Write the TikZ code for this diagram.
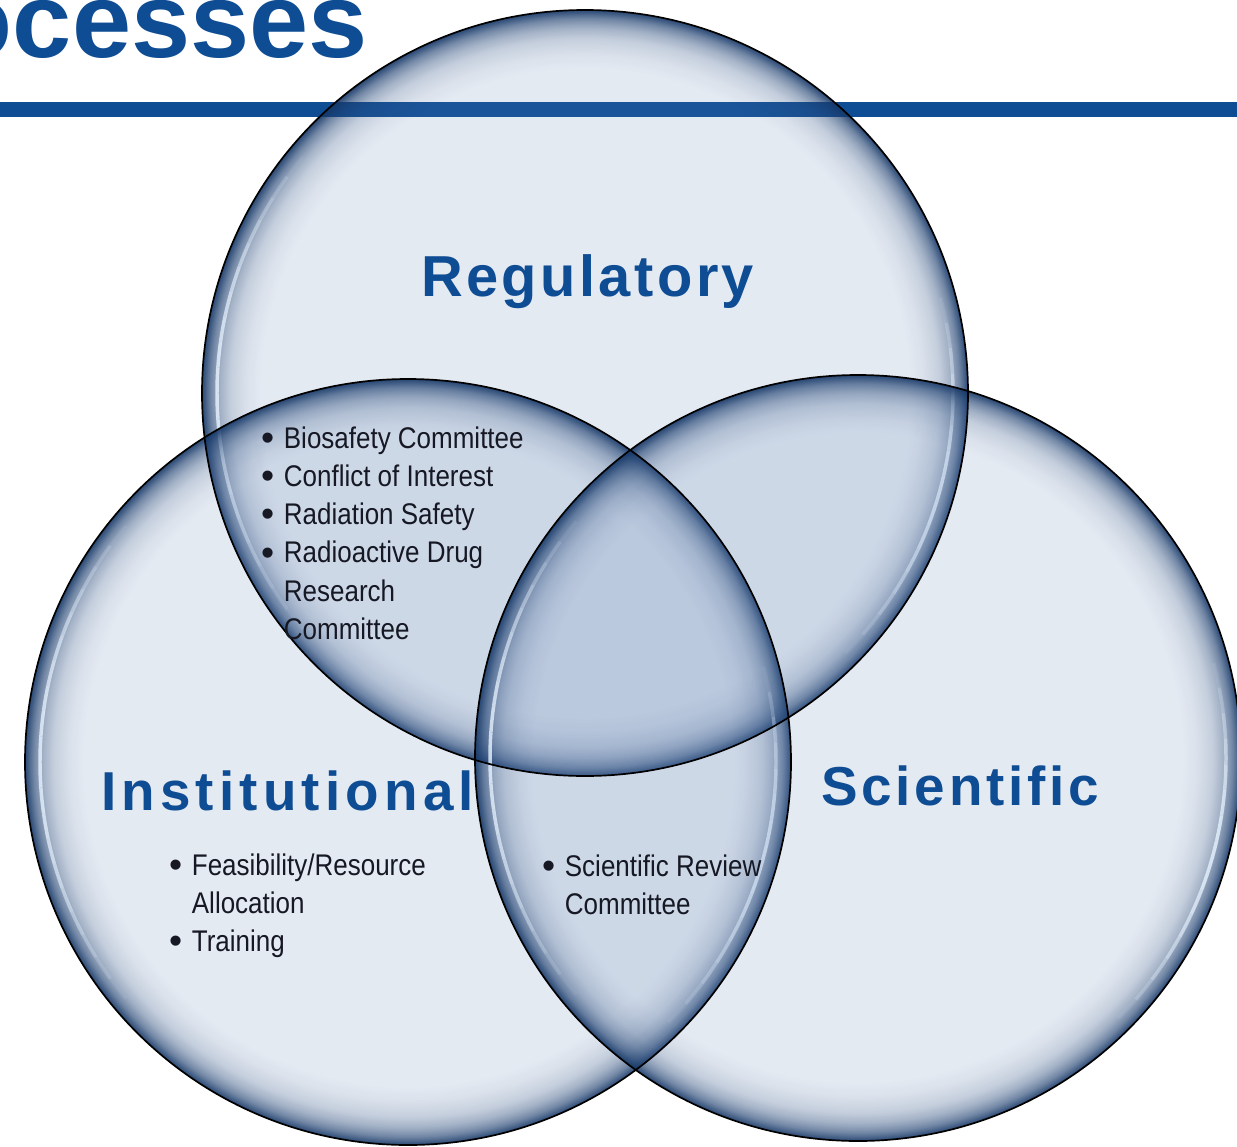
\documentclass[tikz,border=0pt]{standalone}
\usepackage{fontspec}
\setmainfont{Liberation Sans}
\newfontfamily\listfont[FakeStretch=0.87]{Liberation Sans}
\newfontfamily\regfont[LetterSpace=6]{Liberation Sans}
\newfontfamily\instfont[LetterSpace=9.5]{Liberation Sans}
\newfontfamily\scifont[LetterSpace=7]{Liberation Sans}
\usepackage{xcolor}
\usepackage{graphicx}
\usepackage{tikz}
\usetikzlibrary{positioning, fadings}

\definecolor{headblue}{RGB}{14,76,147}
\definecolor{vennfill}{RGB}{95,128,178}
\definecolor{vennedge}{RGB}{20,54,102}
\definecolor{glint}{RGB}{232,243,255}
\definecolor{listtext}{RGB}{22,24,36}

% one picture pixel
\newlength\pxu
\setlength\pxu{0.5669pt}

% mask for the dark inner rim (black = clear, white = solid)
\pgfdeclareradialshading{rimmask}{\pgfpointorigin}{%
  color(0bp)=(black); color(21.1bp)=(black); color(22.06bp)=(black!95);
  color(23.04bp)=(black!85); color(23.7bp)=(black!70); color(24bp)=(black!59);
  color(24.35bp)=(black!45); color(24.67bp)=(black!25); color(25bp)=(black!5);
  color(50bp)=(black!5)}
\tikzfading[name=rimfade, shading=rimmask]

\tikzstyle{titletext} = [anchor=base west, text=headblue, font={\fontsize{60.5}{70}\selectfont\bfseries}]
\tikzstyle{heading} = [anchor=base west, text=headblue]
\tikzstyle{itemlist} = [anchor=base west, text=listtext, font={\fontsize{17}{21.8}\selectfont\listfont}]
\tikzstyle{discrim} = [draw=black, line width=1.7\pxu]

\newcommand\bitem{\makebox[23\pxu][l]{\raisebox{-1.25pt}{\scalebox{1.44}[1.25]{\textbullet}}}}

% glassy disc: tinted fill, dark inner rim, two light glints
\newcommand\glassdisc[1]{%
  \fill[vennfill, fill opacity=0.17] (#1) circle (383);
  \fill[vennedge, path fading=rimfade] (#1) circle (383);
  \foreach \a in {0,...,19}{
    \pgfmathsetmacro\hop{0.8*sin(180*(\a+0.5)/20)}
    \pgfmathsetmacro\hs{140+4*\a}
    \draw[glint, line width=3.5\pxu, draw opacity=\hop] (#1) ++(\hs:368) arc[start angle=\hs, delta angle=4, radius=368];
  }
  \foreach \a in {0,...,14}{
    \pgfmathsetmacro\hop{0.8*sin(180*(\a+0.5)/15)}
    \pgfmathsetmacro\hs{-15+4*\a}
    \draw[glint, line width=3.5\pxu, draw opacity=\hop] (#1) ++(\hs:368) arc[start angle=\hs, delta angle=4, radius=368];
  }
}

\begin{document}
\begin{tikzpicture}[x=0.02cm, y=-0.02cm,
      every node/.style={inner sep=0pt, outer sep=0pt}]
  \useasboundingbox (0,0) rectangle (1237,1146);

  % Title and rule
  \node[titletext] (title) at (-52,57) {ocesses};
  \fill[headblue] (0,102) rectangle (1237,117);

  % Circle centres
  \coordinate (reg) at (585,393);
  \coordinate (inst) at (408,762);
  \coordinate (sci) at (858,758);

  % Discs, then their outlines on top
  \foreach \c in {reg,inst,sci}{\glassdisc{\c}}
  \foreach \c in {reg,inst,sci}{\draw[discrim] (\c) circle (383);}

  % Headings
  \node[heading, font={\fontsize{32.9}{38}\selectfont\regfont\bfseries}] (regulatory) at (421,296) {Regulatory};
  \node[heading, font={\fontsize{31.2}{38}\selectfont\instfont\bfseries}] (institutional) at (101,810) {Institutional};
  \node[heading, font={\fontsize{31.2}{38}\selectfont\scifont\bfseries}] (scientific) at (821,805) {Scientific};

  % Bullet lists
  \node[itemlist] (regInst) at (261,448) {\begin{tabular}[t]{@{}l@{}l@{}}
      \bitem & Biosafety Committee\\
      \bitem & Conflict of Interest\\
      \bitem & Radiation Safety\\
      \bitem & Radioactive Drug\\
             & Research\\
             & Committee
    \end{tabular}};
  \node[itemlist] (instList) at (169,875) {\begin{tabular}[t]{@{}l@{}l@{}}
      \bitem & Feasibility/Resource\\
             & Allocation\\
      \bitem & Training
    \end{tabular}};
  \node[itemlist] (instSci) at (542,876) {\begin{tabular}[t]{@{}l@{}l@{}}
      \bitem & Scientific Review\\
             & Committee
    \end{tabular}};

\end{tikzpicture}
\end{document}
